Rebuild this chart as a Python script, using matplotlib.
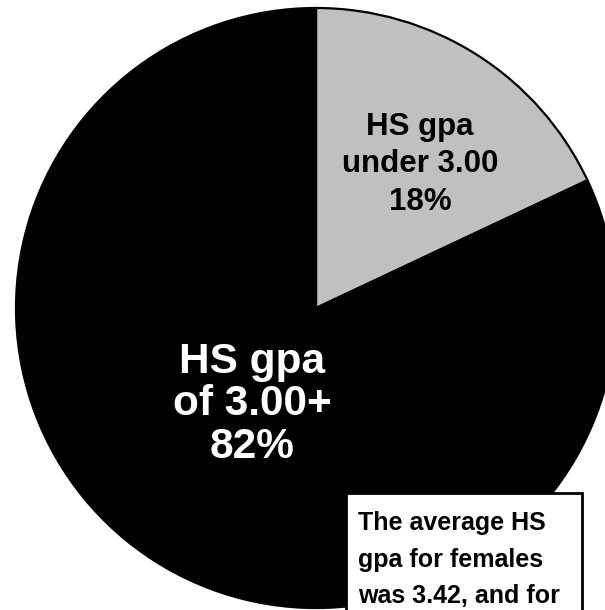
import matplotlib
matplotlib.use("Agg")
import matplotlib.pyplot as plt
from matplotlib.patches import Rectangle

matplotlib.rcParams['font.family'] = ['Liberation Sans', 'DejaVu Sans']

labels = ["HS gpa\nunder 3.00", "HS gpa\nof 3.00+"]
shares = [18, 82]
colors = ["#c0c0c0", "#000000"]
note = "The average HS\ngpa for females\nwas 3.42, and for"

W, H = 605, 610
cx, cy, R = 316, 308, 300  # pie centre / radius in pixels


def px(x, y):
    # pixel position -> data coords (pie radius = 1)
    return (x - cx) / R, (cy - y) / R


fig = plt.figure(figsize=(W / 100, H / 100), dpi=100)
ax = fig.add_axes([0, 0, 1, 1])

wedges, _ = ax.pie(shares, colors=colors, startangle=90, counterclock=False,
                   radius=1, wedgeprops=dict(edgecolor="black", linewidth=1.6))

ax.set_aspect('auto')
ax.set_xlim(-cx / R, (W - cx) / R)
ax.set_ylim(-(H - cy) / R, cy / R)
ax.axis('off')

x, y = px(420, 112)
ax.text(x, y, f"{labels[0]}\n{shares[0]}%", ha='center', va='top',
        fontsize=22.5, fontweight='bold', color='black', linespacing=1.32)

x, y = px(252, 342)
ax.text(x, y, f"{labels[1]}\n{shares[1]}%", ha='center', va='top',
        fontsize=30.5, fontweight='bold', color='white', linespacing=1.08)

# note box, runs off the bottom of the picture
x0, y0 = px(346, 640)
x1, y1 = px(582, 493)
ax.add_patch(Rectangle((x0, y0), x1 - x0, y1 - y0, facecolor='white',
                       edgecolor='black', linewidth=2, zorder=3))
x, y = px(358, 511)
ax.text(x, y, note, ha='left', va='top', fontsize=18, fontweight='bold',
        color='black', linespacing=1.66, zorder=4)

fig.savefig("out.png", dpi=100)
